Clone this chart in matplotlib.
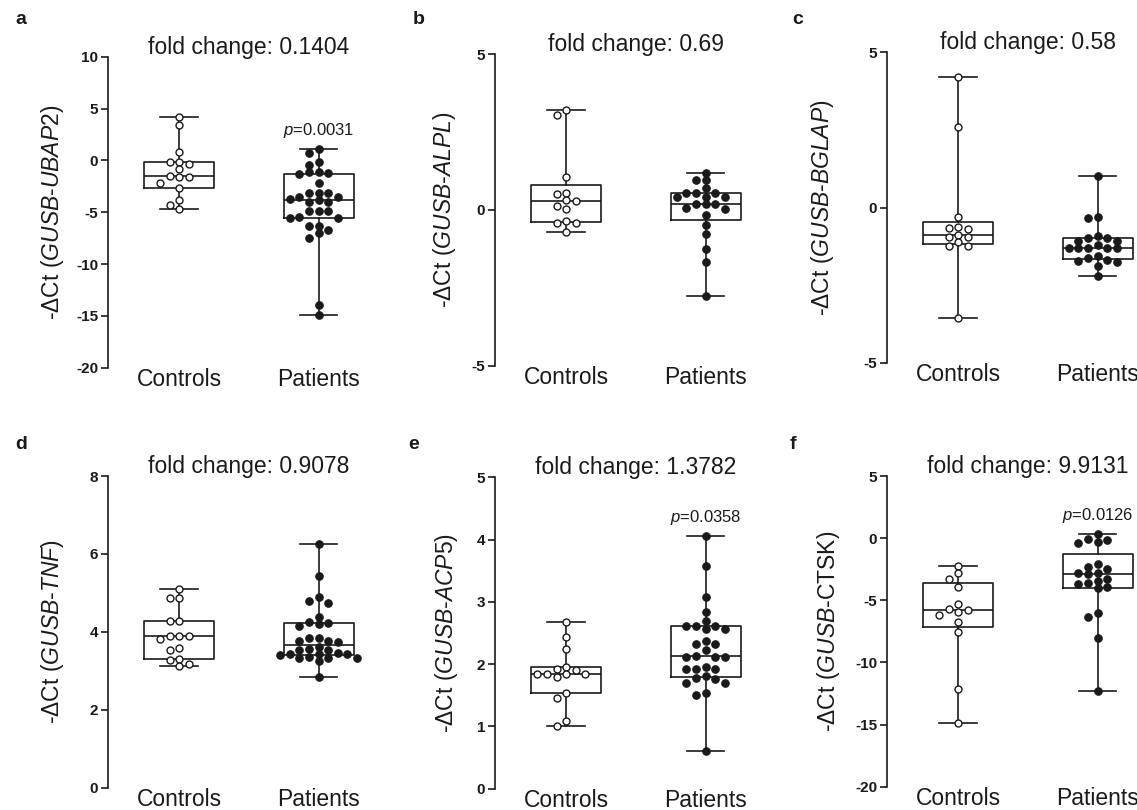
import numpy as np
import matplotlib
matplotlib.use('Agg')
import matplotlib.pyplot as plt

plt.rcParams['font.family'] = ['Liberation Sans', 'DejaVu Sans']
plt.rcParams['mathtext.fontset'] = 'custom'
plt.rcParams['mathtext.rm'] = 'Liberation Sans'
plt.rcParams['mathtext.it'] = 'Liberation Sans:italic'
plt.rcParams['mathtext.bf'] = 'Liberation Sans:bold'

# ---------------- data ----------------
groups = ['Controls', 'Patients']
panel_letters = ['a', 'b', 'c', 'd', 'e', 'f']
fold_changes = ['0.1404', '0.69', '0.58', '0.9078', '1.3782', '9.9131']
p_values = ['0.0031', None, None, None, '0.0358', '0.0126']
ylabels = [
    r'-$\mathit{\Delta}$Ct ($\mathit{GUSB}$-$\mathit{UBAP2}$)',
    r'-$\mathit{\Delta}$Ct ($\mathit{GUSB}$-$\mathit{ALPL}$)',
    r'-$\mathit{\Delta}$Ct ($\mathit{GUSB}$-$\mathit{BGLAP}$)',
    r'-$\mathit{\Delta}$Ct ($\mathit{GUSB}$-$\mathit{TNF}$)',
    r'-$\mathit{\Delta}$Ct ($\mathit{GUSB}$-$\mathit{ACP5}$)',
    r'-$\mathit{\Delta}$Ct ($\mathit{GUSB}$-CTSK)',
]
ylims = [(-20, 10), (-5, 5), (-5, 5), (0, 8), (0, 5), (-20, 5)]
yticks = [[10, 5, 0, -5, -10, -15, -20], [5, 0, -5], [5, 0, -5],
          [0, 2, 4, 6, 8], [0, 1, 2, 3, 4, 5], [5, 0, -5, -10, -15, -20]]

ubap2_controls = [4.21, 3.38, 0.84, -0.19, -0.39, -0.13, -0.87, -1.48, -1.58,
                  -1.58, -2.15, -2.70, -3.83, -4.31, -4.69]
ubap2_patients = [1.09, 0.68, -0.13, -0.42, -1.09, -1.16, -1.25, -1.32, -2.15,
                  -3.12, -3.12, -3.12, -3.50, -3.50, -3.76, -3.83, -3.99, -3.99,
                  -4.89, -4.89, -4.89, -5.43, -5.53, -5.53, -6.30, -6.30, -6.72,
                  -7.04, -7.52, -13.99, -14.89]
alpl_controls = [3.20, 3.04, 1.06, 0.50, 0.55, 0.28, 0.32, 0.12, 0.02, -0.35,
                 -0.41, -0.41, -0.72]
alpl_patients = [1.19, 0.96, 0.96, 0.71, 0.55, 0.55, 0.55, 0.42, 0.40, 0.42,
                 0.19, 0.19, 0.19, 0.05, 0.02, -0.17, -0.49, -0.79, -1.24,
                 -1.68, -2.75]
bglap_controls = [4.19, 2.60, -0.30, -0.65, -0.70, -0.62, -0.96, -0.89, -0.94,
                  -1.24, -1.24, -1.12, -3.57]
bglap_patients = [1.02, -0.35, -0.30, -0.97, -1.07, -1.07, -0.97, -0.91, -1.21,
                  -1.32, -1.32, -1.32, -1.32, -1.32, -1.56, -1.69, -1.75, -1.72,
                  -1.64, -1.87, -2.21]
tnf_controls = [5.09, 4.88, 4.88, 4.29, 4.29, 3.90, 3.82, 3.90, 3.90, 3.58,
                3.53, 3.28, 3.31, 3.13, 3.18]
tnf_patients = [6.25, 5.43, 4.90, 4.78, 4.73, 4.39, 4.22, 4.15, 4.20, 4.26,
                3.77, 3.85, 3.85, 3.73, 3.77, 3.42, 3.41, 3.53, 3.53, 3.62,
                3.43, 3.42, 3.34, 3.34, 3.34, 3.36, 3.24, 3.45, 3.55, 2.83]
acp5_controls = [2.67, 2.43, 2.24, 1.96, 1.92, 1.90, 1.84, 1.84, 1.80, 1.84,
                 1.84, 1.53, 1.45, 1.09, 1.00]
acp5_patients = [4.06, 3.57, 3.08, 2.84, 2.62, 2.62, 2.56, 2.56, 2.62, 2.69,
                 2.32, 2.32, 2.37, 2.22, 2.12, 2.12, 2.12, 2.13, 1.96, 1.92,
                 1.92, 1.92, 1.81, 1.77, 1.70, 1.70, 1.76, 1.54, 1.51, 0.60]
ctsk_controls = [-2.22, -2.83, -3.32, -3.91, -5.30, -5.70, -5.92, -5.78, -6.19,
                 -6.72, -7.58, -12.17, -14.85]
ctsk_patients = [0.31, -0.15, -0.42, -0.34, -0.10, -2.11, -2.30, -2.48, -2.78,
                 -2.89, -2.78, -3.58, -3.69, -3.29, -3.45, -4.04, -3.91, -6.00,
                 -6.37, -8.01, -12.27]

panel_data = [
    (ubap2_controls, ubap2_patients),
    (alpl_controls, alpl_patients),
    (bglap_controls, bglap_patients),
    (tnf_controls, tnf_patients),
    (acp5_controls, acp5_patients),
    (ctsk_controls, ctsk_patients),
]

# ---------------- layout ----------------
W, H = 1137, 810
fig = plt.figure(figsize=(W / 100, H / 100), dpi=100)
INK = '#1a1a1a'

spine_x = [108, 495, 887, 108, 495, 887]
ax_top = [56.7, 54, 52.3, 476, 477.3, 476]
ax_bot = [367.7, 365.7, 362.7, 787.7, 788.7, 786.7]
ylab_off = [55, 50, 64, 55, 48, 59]
letter_xy = [(15, 24), (413, 24), (792, 24), (15, 449), (408, 449), (790, 449)]
unit_px = 139.5
XL = (-0.51, 1.49)
width_px = unit_px * (XL[1] - XL[0])

STEP_PX = 9.6
MIN_D = 7.0


def swarm_x(ax, x0, vals):
    pts = ax.transData.transform(np.column_stack([np.full(len(vals), x0), vals]))
    ys = pts[:, 1]
    order = np.argsort(-ys, kind='stable')
    placed = []
    cols = np.zeros(len(vals))
    cands = [0] + [s * j for j in range(1, 30) for s in (-1, 1)]
    for i in order:
        for c in cands:
            ok = True
            for pc, py in placed:
                if np.hypot((c - pc) * STEP_PX, py - ys[i]) < MIN_D:
                    ok = False
                    break
            if ok:
                cols[i] = c
                placed.append((c, ys[i]))
                break
    return x0 + cols * STEP_PX / unit_px


for i in range(6):
    rect = [spine_x[i] / W, 1 - ax_bot[i] / H, width_px / W,
            (ax_bot[i] - ax_top[i]) / H]
    ax = fig.add_axes(rect)
    ax.patch.set_alpha(0)
    ax.set_xlim(*XL)
    ax.set_ylim(*ylims[i])
    for s in ('top', 'right', 'bottom'):
        ax.spines[s].set_visible(False)
    ax.spines['left'].set_linewidth(1.2)
    ax.spines['left'].set_color(INK)
    ax.set_yticks(yticks[i], labels=[str(t) for t in yticks[i]],
                  fontsize=11, fontweight='bold', color=INK)
    ax.tick_params(axis='y', length=5, width=1.2, color=INK, pad=2)
    ax.set_xticks([0, 1], labels=groups, fontsize=16.5, color=INK)
    ax.tick_params(axis='x', length=0, pad=0)

    ctrl, pat = panel_data[i]
    stats = []
    for vals in (ctrl, pat):
        q1, med, q3 = np.percentile(vals, [25, 50, 75], method='weibull')
        stats.append(dict(med=med, q1=q1, q3=q3, whislo=min(vals),
                          whishi=max(vals), fliers=[]))
    lp = dict(color=INK, linewidth=1.2)
    ax.bxp(stats, positions=[0, 1], widths=0.5, capwidths=0.27,
           showfliers=False, boxprops=lp, whiskerprops=lp, capprops=lp,
           medianprops=lp, manage_ticks=False, zorder=2)

    xc = swarm_x(ax, 0, ctrl)
    ax.plot(xc, ctrl, 'o', ms=5.0, mew=1.0, mfc='white', mec=INK,
            zorder=3, clip_on=False)
    xp = swarm_x(ax, 1, pat)
    ax.plot(xp, pat, 'o', ms=5.4, mew=0.8, mfc=INK, mec=INK,
            zorder=3, clip_on=False)

    ax.set_ylabel(ylabels[i], fontsize=16.5, color=INK)
    ax.yaxis.set_label_coords(-ylab_off[i] / width_px, 0.5)
    ax.yaxis.label.set_verticalalignment('center')

    ax.annotate('fold change: ' + fold_changes[i], xy=(0.5, 1.0),
                xycoords=('data', 'axes fraction'), xytext=(0, 2.2),
                textcoords='offset points', ha='center', va='baseline',
                fontsize=16.5, color=INK, annotation_clip=False)
    if p_values[i] is not None:
        ax.annotate(r'$\mathit{p}$=' + p_values[i], xy=(1, max(pat)),
                    xytext=(0, 10), textcoords='offset points',
                    ha='center', va='baseline', fontsize=12, color=INK,
                    annotation_clip=False)

    lx, ly = letter_xy[i]
    fig.text(lx / W, 1 - ly / H, panel_letters[i], fontsize=14,
             fontweight='bold', color=INK, ha='left', va='baseline')

fig.savefig('out.png', dpi=100)
